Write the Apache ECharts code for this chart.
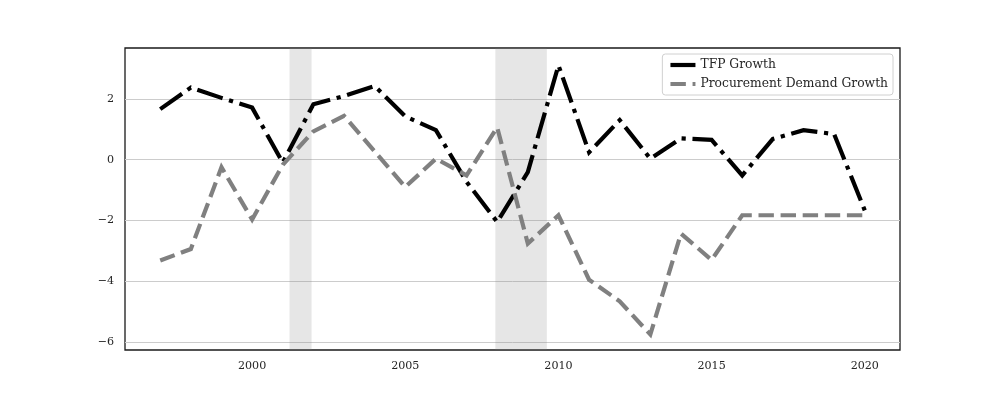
<!DOCTYPE html>
<html>
<head>
<meta charset="utf-8">
<script src="https://cdn.jsdelivr.net/npm/echarts@6/dist/echarts.min.js"></script>
<style>html,body{margin:0;padding:0;background:#fff;}#c{width:1000px;height:400px;}</style>
</head>
<body>
<div id="c"></div>
<script>
var years = [1997,1998,1999,2000,2001,2002,2003,2004,2005,2006,2007,2008,2009,2010,2011,2012,2013,2014,2015,2016,2017,2018,2019,2020];
var tfpGrowth = [1.66,2.37,2.03,1.71,-0.1,1.82,2.09,2.42,1.42,0.97,-0.73,-2.05,-0.41,3.1,0.24,1.3,0.03,0.7,0.65,-0.52,0.68,0.97,0.84,-1.67];
var procurementGrowth = [-3.32,-2.94,-0.25,-1.97,-0.17,0.93,1.44,0.27,-0.9,0.03,-0.52,1.06,-2.76,-1.83,-3.95,-4.66,-5.75,-2.43,-3.3,-1.83,-1.83,-1.83,-1.83,-1.83];
var recessions = [[2001.22, 2001.94], [2007.94, 2009.62]];
var xTicks = [2000, 2005, 2010, 2015, 2020];
var yTicks = [-6, -4, -2, 0, 2];
var seriesNames = ['TFP Growth', 'Procurement Demand Growth'];

function pairs(vals){ return years.map(function(y,i){ return [y, vals[i]]; }); }
var font = 'DejaVu Serif';
var chart = echarts.init(document.getElementById('c'), null, {renderer:'canvas'});
chart.setOption({
  animation: false,
  backgroundColor: '#fff',
  grid: {left:125, right:100, top:48, bottom:50, show:true, borderColor:'#1a1a1a', borderWidth:1.3, backgroundColor:'transparent'},
  legend: {
    right: 107, top: 54, orient: 'vertical',
    data: seriesNames,
    backgroundColor: 'rgba(255,255,255,0.8)',
    borderColor: '#d0d0d0', borderWidth: 1, borderRadius: 3,
    padding: [5, 5, 5, 6], itemGap: 7, itemWidth: 25, itemHeight: 11,
    itemStyle: {opacity: 0},
    lineStyle: {width: 4.2},
    textStyle: {fontFamily: font, fontSize: 12.3, color: '#262626'}
  },
  xAxis: {
    type: 'value', min: 1995.85, max: 2021.15,
    axisLine: {show:false}, splitLine: {show:false},
    axisTick: {show:false, customValues: xTicks},
    axisLabel: {customValues: xTicks, fontFamily: font, fontSize: 11.1, color: '#262626', margin: 11,
      formatter: function(v){ return String(v); }}
  },
  yAxis: {
    type: 'value', min: -6.26, max: 3.67,
    axisLine: {show:false},
    axisTick: {show:false, customValues: yTicks},
    splitLine: {show:true, lineStyle:{color:'#cccccc', width:1}},
    axisLabel: {customValues: yTicks, fontFamily: font, fontSize: 11.1, color: '#262626', margin: 11,
      formatter: function(v){ return v < 0 ? '\u2212' + Math.abs(v) : String(v); }}
  },
  series: [
    {
      name: seriesNames[0], type: 'line', data: pairs(tfpGrowth), symbol: 'none', z: 3,
      lineStyle: {color:'#000000', width:4.2, type:[26.7,6.7,4.2,6.7], cap:'butt', join:'miter'},
      itemStyle: {color:'#000000'},
      markArea: {silent:true, itemStyle:{color:'rgba(128,128,128,0.2)'},
        data: recessions.map(function(r){ return [{xAxis:r[0]},{xAxis:r[1]}]; })}
    },
    {
      name: seriesNames[1], type: 'line', data: pairs(procurementGrowth), symbol: 'none', z: 3,
      lineStyle: {color:'#808080', width:4.2, type:[15.4,6.7], cap:'butt', join:'miter'},
      itemStyle: {color:'#808080'}
    }
  ]
});
</script>
</body>
</html>
